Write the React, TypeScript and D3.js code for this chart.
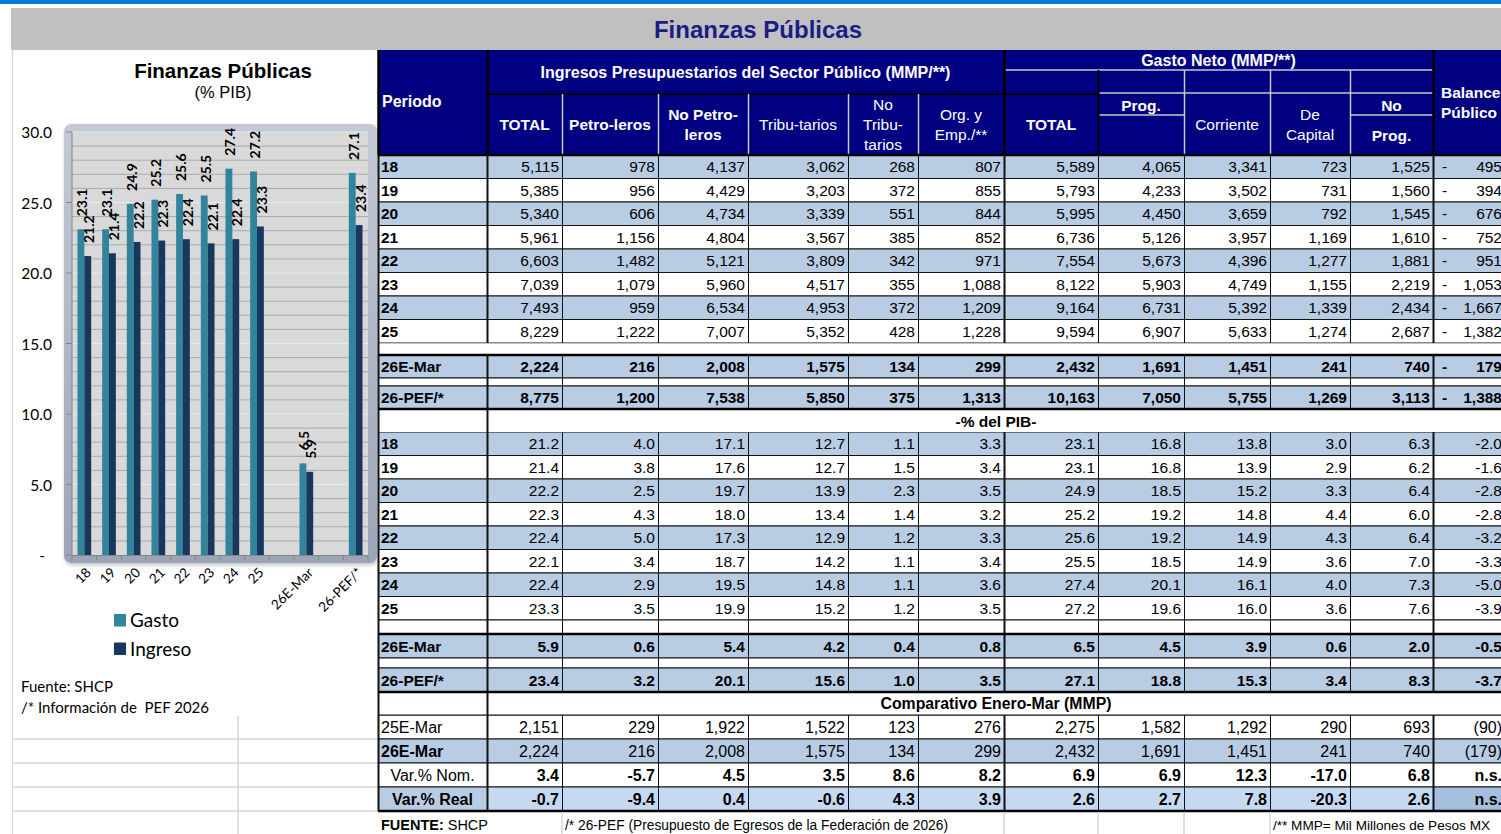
import React from 'react';
import * as d3 from 'd3';

// ---------- chart data ----------
const chartCats = ["18", "19", "20", "21", "22", "23", "24", "25", "", "26E-Mar", "", "26-PEF/*"];
const gastoPct: (number | null)[] = [23.1, 23.1, 24.9, 25.2, 25.6, 25.5, 27.4, 27.2, null, 6.5, null, 27.1];
const ingresoPct: (number | null)[] = [21.2, 21.4, 22.2, 22.3, 22.4, 22.1, 22.4, 23.3, null, 5.9, null, 23.4];
const yTicks = [0, 5, 10, 15, 20, 25, 30];
const seriesNames = ["Gasto", "Ingreso"];

// ---------- table data ----------
const periods = ["18", "19", "20", "21", "22", "23", "24", "25"];
const extraLabels = ["26E-Mar", "26-PEF/*"];
const mmpRows = [
  [5115, 978, 4137, 3062, 268, 807, 5589, 4065, 3341, 723, 1525, -495],
  [5385, 956, 4429, 3203, 372, 855, 5793, 4233, 3502, 731, 1560, -394],
  [5340, 606, 4734, 3339, 551, 844, 5995, 4450, 3659, 792, 1545, -676],
  [5961, 1156, 4804, 3567, 385, 852, 6736, 5126, 3957, 1169, 1610, -752],
  [6603, 1482, 5121, 3809, 342, 971, 7554, 5673, 4396, 1277, 1881, -951],
  [7039, 1079, 5960, 4517, 355, 1088, 8122, 5903, 4749, 1155, 2219, -1053],
  [7493, 959, 6534, 4953, 372, 1209, 9164, 6731, 5392, 1339, 2434, -1667],
  [8229, 1222, 7007, 5352, 428, 1228, 9594, 6907, 5633, 1274, 2687, -1382],
];
const mmpExtra = [
  [2224, 216, 2008, 1575, 134, 299, 2432, 1691, 1451, 241, 740, -179],
  [8775, 1200, 7538, 5850, 375, 1313, 10163, 7050, 5755, 1269, 3113, -1388],
];
const pctRows = [
  [21.2, 4.0, 17.1, 12.7, 1.1, 3.3, 23.1, 16.8, 13.8, 3.0, 6.3, -2.0],
  [21.4, 3.8, 17.6, 12.7, 1.5, 3.4, 23.1, 16.8, 13.9, 2.9, 6.2, -1.6],
  [22.2, 2.5, 19.7, 13.9, 2.3, 3.5, 24.9, 18.5, 15.2, 3.3, 6.4, -2.8],
  [22.3, 4.3, 18.0, 13.4, 1.4, 3.2, 25.2, 19.2, 14.8, 4.4, 6.0, -2.8],
  [22.4, 5.0, 17.3, 12.9, 1.2, 3.3, 25.6, 19.2, 14.9, 4.3, 6.4, -3.2],
  [22.1, 3.4, 18.7, 14.2, 1.1, 3.4, 25.5, 18.5, 14.9, 3.6, 7.0, -3.3],
  [22.4, 2.9, 19.5, 14.8, 1.1, 3.6, 27.4, 20.1, 16.1, 4.0, 7.3, -5.0],
  [23.3, 3.5, 19.9, 15.2, 1.2, 3.5, 27.2, 19.6, 16.0, 3.6, 7.6, -3.9],
];
const pctExtra = [
  [5.9, 0.6, 5.4, 4.2, 0.4, 0.8, 6.5, 4.5, 3.9, 0.6, 2.0, -0.5],
  [23.4, 3.2, 20.1, 15.6, 1.0, 3.5, 27.1, 18.8, 15.3, 3.4, 8.3, -3.7],
];
const compLabels = ["25E-Mar", "26E-Mar", "Var.% Nom.", "Var.% Real"];
const compMmp = [
  [2151, 229, 1922, 1522, 123, 276, 2275, 1582, 1292, 290, 693, -90],
  [2224, 216, 2008, 1575, 134, 299, 2432, 1691, 1451, 241, 740, -179],
];
const compVar = [
  [3.4, -5.7, 4.5, 3.5, 8.6, 8.2, 6.9, 6.9, 12.3, -17.0, 6.8],
  [-0.7, -9.4, 0.4, -0.6, 4.3, 3.9, 2.6, 2.7, 7.8, -20.3, 2.6],
];
const compVarBalance = ["n.s.", "n.s."];

// ---------- layout constants ----------
const W = 1501, H = 834;
const edges = [378, 487, 562, 658, 748, 848, 918, 1004, 1098, 1184, 1270, 1350, 1433, 1505];
const thickX = new Set([378, 487, 1004, 1433]);
const NAVY = "#000080";
const BLUE = "#B8CCE4";
const TF = "'Liberation Sans', Arial, sans-serif";
const NF = "'Liberation Sans Narrow', 'Liberation Sans', Arial, sans-serif";
const CF = "Lato, 'Open Sans', sans-serif";
const GASTO = "#31849B";
const INGRESO = "#17375E";

const fmtInt = d3.format(",");
const f1 = (v: number) => v.toFixed(1);

type RowOpts = {
  fill?: string;
  label?: string;
  labelBold?: boolean;
  labelCenter?: boolean;
  vals?: string[];
  valBold?: boolean;
  family?: string;
  size?: number;
  dash?: boolean;
  cellFills?: { from: number; to: number; color: string }[];
};

function tableRow(key: string, y0: number, h: number, o: RowOpts) {
  const els: React.ReactNode[] = [];
  const fam = o.family || TF;
  const size = o.size || 15.5;
  const cy = y0 + h / 2;
  if (o.fill) els.push(<rect key={key + "bg"} x={378} y={y0} width={W - 378} height={h} fill={o.fill} />);
  (o.cellFills || []).forEach((c, i) =>
    els.push(<rect key={key + "cf" + i} x={c.from} y={y0} width={c.to - c.from} height={h} fill={c.color} />)
  );
  els.push(<line key={key + "ht"} x1={378} x2={W} y1={y0} y2={y0} stroke="#111" strokeWidth={1} />);
  els.push(<line key={key + "hb"} x1={378} x2={W} y1={y0 + h} y2={y0 + h} stroke="#111" strokeWidth={1} />);
  edges.slice(0, -1).forEach((e, i) =>
    els.push(
      <line key={key + "v" + i} x1={e + 0.5} x2={e + 0.5} y1={y0} y2={y0 + h} stroke="#111" strokeWidth={thickX.has(e) ? 2 : 1} />
    )
  );
  if (o.label !== undefined) {
    els.push(
      <text key={key + "lab"} x={o.labelCenter ? (edges[0] + edges[1]) / 2 : 381} y={cy} dominantBaseline="central"
        textAnchor={o.labelCenter ? "middle" : "start"} fontFamily={fam} fontSize={size}
        fontWeight={o.labelBold ? "bold" : "normal"} fill="#000">{o.label}</text>
    );
  }
  (o.vals || []).forEach((v, j) =>
    els.push(
      <text key={key + "val" + j} x={edges[j + 2] - 3} y={cy} dominantBaseline="central" textAnchor="end"
        fontFamily={fam} fontSize={size} fontWeight={o.valBold ? "bold" : "normal"} fill="#000">{v}</text>
    )
  );
  if (o.dash) {
    els.push(
      <text key={key + "dash"} x={1442} y={cy} dominantBaseline="central" fontFamily={fam} fontSize={size}
        fontWeight={o.valBold ? "bold" : "normal"} fill="#000">-</text>
    );
  }
  return els;
}

function mmpVals(r: number[]) {
  return r.map((v, j) => (j === 11 ? fmtInt(Math.abs(v)) : fmtInt(v)));
}

export default function App() {
  // ---- chart scales ----
  const y = d3.scaleLinear().domain([0, 30]).range([555, 132]);
  const x0 = d3.scaleBand<string>().domain(chartCats.map((_, i) => String(i))).range([72, 368]);
  const x1 = d3.scaleBand<string>().domain(seriesNames).range([0, x0.bandwidth()]).paddingOuter(0.8);
  const series = [gastoPct, ingresoPct];
  const colors = [GASTO, INGRESO];

  const minor = d3.range(1, 30).filter((v) => v % 5 !== 0);

  // ---- table rows layout ----
  const RH = 23.5;
  const s1Top = 155;
  const els: React.ReactNode[] = [];
  periods.forEach((p, i) => {
    els.push(...tableRow("m" + i, s1Top + i * RH, RH, {
      fill: i % 2 === 0 ? BLUE : "#fff", label: p, labelBold: true, vals: mmpVals(mmpRows[i]), dash: true,
    }));
  });
  els.push(...tableRow("me0", 355, 23, { fill: BLUE, label: extraLabels[0], labelBold: true, valBold: true, vals: mmpVals(mmpExtra[0]), dash: true }));
  els.push(...tableRow("msp", 378, 8, { fill: "#fff" }));
  els.push(...tableRow("me1", 386, 23, { fill: BLUE, label: extraLabels[1], labelBold: true, valBold: true, vals: mmpVals(mmpExtra[1]), dash: true }));

  const p2Top = 432;
  periods.forEach((p, i) => {
    els.push(...tableRow("p" + i, p2Top + i * RH, RH, {
      fill: i % 2 === 0 ? BLUE : "#fff", label: p, labelBold: true, vals: pctRows[i].map(f1),
    }));
  });
  els.push(...tableRow("pbl", 620, 14, { fill: "#fff" }));
  els.push(...tableRow("pe0", 634, 24, { fill: BLUE, label: extraLabels[0], labelBold: true, valBold: true, vals: pctExtra[0].map(f1) }));
  els.push(...tableRow("psp", 658, 10, { fill: "#fff" }));
  els.push(...tableRow("pe1", 668, 24, { fill: BLUE, label: extraLabels[1], labelBold: true, valBold: true, vals: pctExtra[1].map(f1) }));

  const cTop = 715, CH = 24;
  els.push(...tableRow("c0", cTop, CH, { fill: "#fff", label: compLabels[0], family: NF, size: 16, vals: compMmp[0].map((v, j) => (j === 11 ? `(${Math.abs(v)})` : fmtInt(v))) }));
  els.push(...tableRow("c1", cTop + CH, CH, { fill: BLUE, label: compLabels[1], labelBold: true, family: NF, size: 16, vals: compMmp[1].map((v, j) => (j === 11 ? `(${Math.abs(v)})` : fmtInt(v))) }));
  els.push(...tableRow("c2", cTop + 2 * CH, CH, { fill: "#fff", label: compLabels[2], labelCenter: true, family: NF, size: 16, valBold: true, vals: [...compVar[0].map(f1), compVarBalance[0]] }));
  els.push(...tableRow("c3", cTop + 3 * CH, CH, {
    fill: "#C5D9F1", label: compLabels[3], labelCenter: true, labelBold: true, family: NF, size: 16, valBold: true,
    vals: [...compVar[1].map(f1), compVarBalance[1]],
    cellFills: [{ from: 378, to: 487, color: BLUE }, { from: 1433, to: W, color: "#A7BFDE" }],
  }));

  const thickLines = [155, 355, 409, 634, 692, 811];

  return (
    <svg width={W} height={H} style={{ position: "absolute", left: 0, top: 0, display: "block", background: "#fff" }}>
      <defs>
        <linearGradient id="frameG" x1="0" y1="0" x2="0" y2="1">
          <stop offset="0" stopColor="#C3C9D5" />
          <stop offset="1" stopColor="#9CA5B7" />
        </linearGradient>
        <filter id="shadow" x="-10%" y="-10%" width="120%" height="120%">
          <feDropShadow dx="1" dy="2" stdDeviation="2" floodColor="#000" floodOpacity="0.25" />
        </filter>
      </defs>

      {/* top band */}
      <rect x={0} y={0} width={W} height={4} fill="#0078D7" />
      <rect x={11} y={8} width={W - 11} height={42} fill="#C0C0C0" />
      <text x={758} y={29} textAnchor="middle" dominantBaseline="central" fontFamily={TF} fontWeight="bold" fontSize={24} fill="#1C1C84">
        Finanzas Públicas
      </text>

      {/* left panel sheet gridlines */}
      <line x1={12.5} x2={12.5} y1={50} y2={H} stroke="#D4D4D4" strokeWidth={1} />
      {[739, 763, 787, 811].map((v) => (
        <line key={"lg" + v} x1={12} x2={378} y1={v} y2={v} stroke="#D4D4D4" strokeWidth={1.5} />
      ))}
      <line x1={238} x2={238} y1={716} y2={H} stroke="#D4D4D4" strokeWidth={1.5} />

      {/* chart */}
      <text x={223} y={78} textAnchor="middle" fontFamily={TF} fontWeight="bold" fontSize={20.5} fill="#000">Finanzas Públicas</text>
      <text x={223} y={98} textAnchor="middle" fontFamily={TF} fontSize={16.5} fill="#000">(% PIB)</text>

      <rect x={64} y={124} width={313} height={439} rx={7} fill="url(#frameG)" filter="url(#shadow)" />
      <rect x={72} y={132} width={296} height={423} fill="#D9D9D9" />
      {minor.map((v) => (
        <line key={"mn" + v} x1={72} x2={368} y1={y(v)} y2={y(v)} stroke="#ABABAB" strokeWidth={1} />
      ))}
      {yTicks.filter((v) => v > 0).map((v) => (
        <line key={"mj" + v} x1={72} x2={368} y1={y(v)} y2={y(v)} stroke="#E3EBF5" strokeWidth={1.2} />
      ))}
      {series.map((s, si) =>
        s.map((v, i) =>
          v === null ? null : (
            <rect key={"b" + si + "-" + i} x={(x0(String(i)) as number) + (x1(seriesNames[si]) as number)} y={y(v)}
              width={x1.bandwidth()} height={y(0) - y(v)} fill={colors[si]} />
          )
        )
      )}
      {series.map((s, si) =>
        s.map((v, i) => {
          if (v === null) return null;
          const cx = (x0(String(i)) as number) + (x1(seriesNames[si]) as number) + x1.bandwidth() / 2 + 1;
          const ty = y(v) - 13;
          return (
            <text key={"l" + si + "-" + i} transform={`translate(${cx},${ty}) rotate(-90)`} dominantBaseline="central"
              textAnchor="start" fontFamily={CF} fontWeight="bold" fontSize={14} fill="#000">{f1(v)}</text>
          );
        })
      )}
      {/* axes */}
      <line x1={72} x2={72} y1={132} y2={555} stroke="#868686" strokeWidth={1} />
      <line x1={72} x2={368} y1={555.5} y2={555.5} stroke="#868686" strokeWidth={1} />
      {yTicks.map((v) => (
        <g key={"yt" + v}>
          <line x1={66} x2={72} y1={y(v)} y2={y(v)} stroke="#868686" strokeWidth={1} />
          <text x={v === 0 ? 45 : 52} y={y(v)} textAnchor="end" dominantBaseline="central" fontFamily={CF} fontSize={15.5} fill="#000">
            {v === 0 ? "-" : f1(v)}
          </text>
        </g>
      ))}
      {[...chartCats.map((_, i) => x0(String(i)) as number), 368].map((xv, i) => (
        <line key={"xt" + i} x1={xv} x2={xv} y1={555} y2={561} stroke="#868686" strokeWidth={1} />
      ))}
      {chartCats.map((c, i) =>
        c ? (
          <text key={"xl" + i} transform={`translate(${(x0(String(i)) as number) + x0.bandwidth() / 2 + 4},${570}) rotate(-45)`}
            textAnchor="end" dominantBaseline="central" fontFamily={CF} fontSize={13.5} fill="#000">{c}</text>
        ) : null
      )}
      {/* legend */}
      {seriesNames.map((n, i) => (
        <g key={"lg" + n}>
          <rect x={114} y={614 + i * 28.5} width={12} height={12.5} fill={colors[i]} />
          <text x={130} y={627 + i * 28.5} fontFamily={CF} fontSize={19} fill="#000">{n}</text>
        </g>
      ))}
      <text x={21} y={692} fontFamily={CF} fontSize={15} fill="#000">Fuente: SHCP</text>
      <text x={21} y={713} fontFamily={CF} fontSize={15} fill="#000" style={{ whiteSpace: "pre" }}>/* Información de  PEF 2026</text>

      {/* ---------- table header ---------- */}
      <rect x={378} y={50} width={W - 378} height={105} fill={NAVY} />
      <line x1={487} x2={1098} y1={94} y2={94} stroke="#000" strokeWidth={2} />
      {[562, 658, 748, 848, 918].map((v) => (
        <line key={"hs" + v} x1={v + 0.5} x2={v + 0.5} y1={94} y2={155} stroke="#C8C8C8" strokeWidth={1.5} />
      ))}
      <line x1={1004} x2={1433} y1={70} y2={70} stroke="#C8C8C8" strokeWidth={1.5} />
      <line x1={1098} x2={1433} y1={93} y2={93} stroke="#C8C8C8" strokeWidth={1.5} />
      <line x1={1098} x2={1184} y1={115} y2={115} stroke="#C8C8C8" strokeWidth={1.5} />
      <line x1={1350} x2={1433} y1={115} y2={115} stroke="#C8C8C8" strokeWidth={1.5} />
      {[1184, 1270, 1350].map((v) => (
        <line key={"gs" + v} x1={v + 0.5} x2={v + 0.5} y1={70} y2={155} stroke="#C8C8C8" strokeWidth={1.5} />
      ))}
      <line x1={1098.5} x2={1098.5} y1={70} y2={155} stroke="#000" strokeWidth={2} />
      {[378, 487, 1004, 1433].map((v) => (
        <line key={"hv" + v} x1={v + 0.5} x2={v + 0.5} y1={50} y2={155} stroke="#000" strokeWidth={2.5} />
      ))}
      <g fontFamily={TF} fill="#fff" fontSize={15.5} textAnchor="middle" dominantBaseline="central">
        <text x={382} y={101} textAnchor="start" fontWeight="bold" fontSize={16}>Periodo</text>
        <text x={745.5} y={72} fontWeight="bold" fontSize={16}>Ingresos Presupuestarios del Sector Público (MMP/**)</text>
        <text x={524.5} y={124} fontWeight="bold">TOTAL</text>
        <text x={610} y={124} fontWeight="bold">Petro-leros</text>
        <text x={703} y={114} fontWeight="bold">No Petro-</text>
        <text x={703} y={134} fontWeight="bold">leros</text>
        <text x={798} y={124}>Tribu-tarios</text>
        <text x={883} y={104}>No</text>
        <text x={883} y={124}>Tribu-</text>
        <text x={883} y={144}>tarios</text>
        <text x={961} y={114}>Org. y</text>
        <text x={961} y={134}>Emp./**</text>
        <text x={1218.5} y={60} fontWeight="bold" fontSize={16}>Gasto Neto (MMP/**)</text>
        <text x={1051} y={124} fontWeight="bold">TOTAL</text>
        <text x={1141} y={105} fontWeight="bold">Prog.</text>
        <text x={1227} y={124}>Corriente</text>
        <text x={1310} y={114}>De</text>
        <text x={1310} y={134}>Capital</text>
        <text x={1391.5} y={105} fontWeight="bold">No</text>
        <text x={1391.5} y={135} fontWeight="bold">Prog.</text>
        <text x={1441} y={92} textAnchor="start" fontWeight="bold">Balance</text>
        <text x={1441} y={112} textAnchor="start" fontWeight="bold">Público</text>
      </g>

      {/* ---------- table body ---------- */}
      {els}

      {/* section header rows */}
      <rect x={378} y={409} width={W - 378} height={23} fill="#fff" />
      <line x1={378.5} x2={378.5} y1={409} y2={432} stroke="#111" strokeWidth={2} />
      <line x1={487.5} x2={487.5} y1={409} y2={432} stroke="#111" strokeWidth={2} />
      <text x={996} y={421} textAnchor="middle" dominantBaseline="central" fontFamily={TF} fontWeight="bold" fontSize={15.5}>-% del PIB-</text>

      <rect x={378} y={692} width={W - 378} height={23} fill="#fff" />
      <line x1={378.5} x2={378.5} y1={692} y2={715} stroke="#111" strokeWidth={2} />
      <line x1={487.5} x2={487.5} y1={692} y2={715} stroke="#111" strokeWidth={2} />
      <text x={996} y={703.5} textAnchor="middle" dominantBaseline="central" fontFamily={NF} fontWeight="bold" fontSize={16}
        textLength={231} lengthAdjust="spacingAndGlyphs">Comparativo Enero-Mar (MMP)</text>
      <line x1={378} x2={W} y1={715} y2={715} stroke="#111" strokeWidth={1} />

      {/* gap row between 25 and 26E-Mar */}
      <rect x={379} y={343.5} width={W - 379} height={11} fill="#fff" />
      <line x1={378.5} x2={378.5} y1={343} y2={355} stroke="#111" strokeWidth={2} />

      {thickLines.map((v) => (
        <line key={"tl" + v} x1={378} x2={W} y1={v} y2={v} stroke="#000" strokeWidth={2.5} />
      ))}

      {/* footer */}
      {[562, 1004, 1098, 1184, 1270].map((v) => (
        <line key={"fg" + v} x1={v} x2={v} y1={812} y2={H} stroke="#D4D4D4" strokeWidth={1.5} />
      ))}
      <text x={381} y={825} dominantBaseline="central" fontFamily={NF} fontSize={14} fill="#000"
        textLength={107} lengthAdjust="spacingAndGlyphs">
        <tspan fontWeight="bold">FUENTE:</tspan> SHCP
      </text>
      <text x={565} y={825} dominantBaseline="central" fontFamily={NF} fontSize={14} fill="#000"
        textLength={383} lengthAdjust="spacingAndGlyphs">/* 26-PEF (Presupuesto de Egresos de la Federación de 2026)</text>
      <text x={1273} y={825} dominantBaseline="central" fontFamily={NF} fontSize={13} fill="#000"
        textLength={217} lengthAdjust="spacingAndGlyphs">/** MMP= Mil Millones de Pesos MX</text>
    </svg>
  );
}
